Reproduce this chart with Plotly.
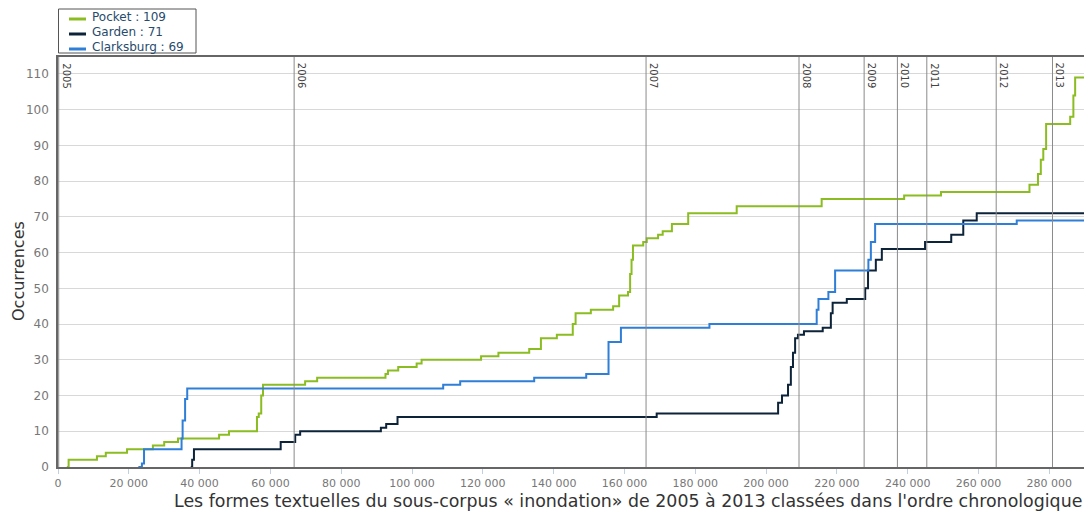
import plotly.graph_objects as go

# Pocket (vert)
pocket_x = [2500, 3000, 11000, 13500, 19500, 26800, 30000, 33900, 45500, 48300,
            56200, 56700, 57400, 57900, 69800, 73200, 92500, 93200, 96100, 101300,
            102700, 119500, 124400, 133100, 136400, 140900, 145400, 146200, 150500, 156800,
            158500, 161000, 161600, 162000, 162400, 165300, 166300, 169500, 170800, 173400,
            178000, 191700, 215700, 239000, 249400, 274400, 276800, 277600, 278300, 279100,
            285900, 286800, 287300, 290000]
pocket_y = [0, 2, 3, 4, 5, 6, 7, 8, 9, 10,
            14, 15, 20, 23, 24, 25, 26, 27, 28, 29,
            30, 31, 32, 33, 36, 37, 40, 43, 44, 45,
            48, 49, 54, 58, 62, 63, 64, 65, 66, 68,
            71, 73, 75, 76, 77, 79, 82, 86, 89, 96,
            98, 104, 109, 109]

# Garden (bleu nuit)
garden_x = [37500, 37900, 38400, 62900, 67000, 68400, 91200, 92700, 95900, 169100,
            203400, 204500, 206200, 207000, 207600, 208200, 209000, 210700, 216000, 218300,
            218800, 222800, 228000, 228800, 231000, 232700, 244900, 252300, 255700, 259500,
            290000]
garden_y = [0, 2, 5, 7, 9, 10, 11, 12, 14, 15,
            18, 20, 23, 28, 32, 36, 37, 38, 39, 43,
            46, 47, 50, 55, 58, 61, 63, 65, 69, 71,
            71]

# Clarksburg (bleu)
clarks_x = [22700, 23700, 24300, 34900, 35200, 35900, 36500, 108800, 113600, 134500,
            149200, 155500, 159000, 184000, 214300, 214800, 217600, 219500, 228900, 229600,
            230800, 270800, 290000]
clarks_y = [0, 1, 5, 8, 13, 19, 22, 23, 24, 25,
            26, 35, 39, 40, 44, 47, 49, 55, 58, 63,
            68, 69, 69]

# debut de chaque annee dans le corpus
annees = ['2005', '2006', '2007', '2008', '2009', '2010', '2011', '2012', '2013']
annees_x = [200, 66700, 166100, 209300, 227700, 237100, 245400, 265000, 280900]

noms = ['Pocket : 109', 'Garden : 71', 'Clarksburg : 69']
couleurs = ['#8bbc21', '#0d233a', '#2f7ed8']

police = 'DejaVu Sans'

# zone de trace (pixels) : x 58..1084, y 57..467
def px(xp):
    return (xp - 58) / 1026

def py(yp):
    return (467 - yp) / 410

fig = go.Figure()

for nom, xs, ys, couleur in zip(noms, [pocket_x, garden_x, clarks_x],
                                [pocket_y, garden_y, clarks_y], couleurs):
    fig.add_trace(go.Scatter(
        x=xs, y=ys, name=nom, mode='lines',
        line=dict(color=couleur, width=2, shape='hv'),
        showlegend=False,
    ))

# lignes verticales des annees
for an, xa in zip(annees, annees_x):
    fig.add_vline(x=xa, line=dict(color='#8a8a8a', width=1), layer='above')
    fig.add_annotation(
        x=xa, y=1, xref='x', yref='paper', text=an, showarrow=False,
        textangle=90, xanchor='left', yanchor='top', yshift=-4,
        font=dict(family=police, size=10, color='#444'),
    )

# legende encadree en haut a gauche
fig.add_shape(type='rect', xref='paper', yref='paper',
              x0=px(58.5), x1=px(196), y0=py(53), y1=py(9),
              line=dict(color='#555', width=1), fillcolor='white')
for i, (nom, couleur) in enumerate(zip(noms, couleurs)):
    yl = 17 + i * 15
    fig.add_shape(type='line', xref='paper', yref='paper',
                  x0=px(69), x1=px(86), y0=py(yl + 2), y1=py(yl + 2),
                  line=dict(color=couleur, width=3))
    fig.add_annotation(
        x=px(90), y=py(yl), xref='paper', yref='paper', text=nom,
        showarrow=False, xanchor='left', yanchor='middle',
        font=dict(family=police, size=12, color='#274b6d'),
    )

# titres des axes
fig.add_annotation(
    x=px(628), y=py(501), xref='paper', yref='paper',
    xanchor='center', yanchor='middle', showarrow=False,
    text="Les formes textuelles du sous-corpus « inondation» de 2005 à 2013 classées dans l'ordre chronologique",
    font=dict(family=police, size=17.4, color='#333'),
)
fig.add_annotation(
    x=px(18), y=py(271), xref='paper', yref='paper',
    xanchor='center', yanchor='middle', textangle=-90, showarrow=False,
    text='Occurrences', font=dict(family=police, size=16, color='#333'),
)

fig.update_layout(
    width=1084, height=514,
    margin=dict(l=58, r=0, t=57, b=47),
    paper_bgcolor='white', plot_bgcolor='white',
    font=dict(family=police, color='#666'),
    showlegend=False,
    separators=', ',
)
fig.update_xaxes(
    range=[0, 289800], showgrid=False, zeroline=False,
    showline=True, linecolor='#666', linewidth=1.5, mirror=True,
    ticks='outside', tickcolor='#c0d0e0', ticklen=5,
    tick0=0, dtick=20000, tickformat=',d',
    tickfont=dict(family=police, size=11, color='#777'),
    automargin=False,
)
fig.update_yaxes(
    range=[0, 114.75], showgrid=True, gridcolor='#d8d8d8', gridwidth=1,
    zeroline=False, showline=True, linecolor='#666', linewidth=1.5,
    tick0=0, dtick=10, ticks='', ticklabelstandoff=5,
    tickfont=dict(family=police, size=12, color='#777'),
    automargin=False,
)

# la page a une marge de 8px par defaut : on la retire
fig.write_html('out.html', config={'displayModeBar': False},
               post_script="document.body.style.margin='0';")
